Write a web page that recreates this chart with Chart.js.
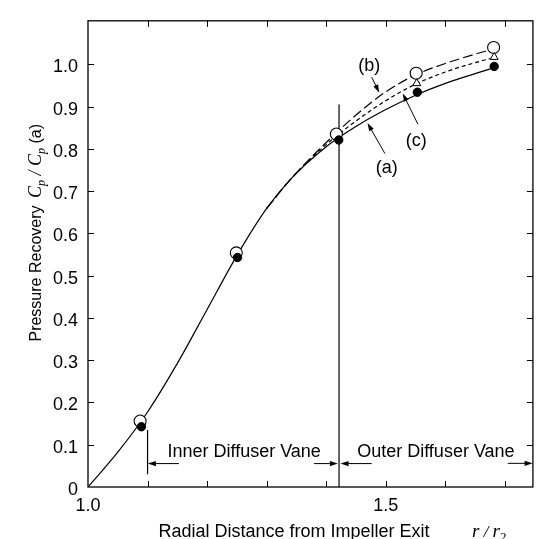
<!DOCTYPE html>
<html>
<head>
<meta charset="utf-8">
<script src="https://cdn.jsdelivr.net/npm/chart.js@4/dist/chart.umd.min.js"></script>
<style>
  html, body { margin: 0; padding: 0; background: #fff; }
  #wrap { width: 540px; height: 539px; position: relative; }
</style>
</head>
<body>
<div id="wrap"><canvas id="c"></canvas></div>
<script>
// ---------------- data ----------------
const xTicks = [1.0, 1.1, 1.2, 1.3, 1.4, 1.5, 1.6, 1.7];
const xTickLabels = ['1.0', '', '', '', '', '1.5', '', ''];
const yTicks = [0, 0.1, 0.2, 0.3, 0.4, 0.5, 0.6, 0.7, 0.8, 0.9, 1.0];
const yTickLabels = ['0', '0.1', '0.2', '0.3', '0.4', '0.5', '0.6', '0.7', '0.8', '0.9', '1.0'];

// common part of the three curves
const commonX = [1.0, 1.05, 1.1, 1.15, 1.2, 1.25, 1.3, 1.34];
const commonY = [0, 0.0825, 0.1775, 0.2925, 0.420, 0.5475, 0.659, 0.728];
// branches after the split
const branchX = [1.4, 1.45, 1.5, 1.55, 1.6, 1.65, 1.682];
const curveAY = [0.805, 0.853, 0.893, 0.927, 0.955, 0.978, 0.992]; // (a) solid
const curveBY = [0.815, 0.880, 0.935, 0.975, 1.002, 1.024, 1.037]; // (b) long dash
const curveCY = [0.810, 0.866, 0.914, 0.953, 0.982, 1.004, 1.016]; // (c) short dash

// measured points
const openX = [1.0875, 1.249, 1.417, 1.551, 1.681];
const openY = [0.156, 0.554, 0.835, 0.979, 1.040];
const filledX = [1.0896, 1.251, 1.421, 1.553, 1.682];
const filledY = [0.1425, 0.543, 0.821, 0.934, 0.995];
const triX = [1.552, 1.682];
const triY = [0.955, 1.017];

// vane boundary lines
const vaneLineX = [1.4215, 1.4215];
const vaneLineY = [0, 0.905];
const innerStartX = [1.1, 1.1];
const innerStartY = [0.03, 0.135];

// ---------------- helpers ----------------
const zip = (xs, ys) => xs.map((x, i) => ({ x: x, y: ys[i] }));
const splitFrom = commonX.indexOf(1.3);
const dataA = zip(commonX.concat(branchX), commonY.concat(curveAY));
const dataB = zip(commonX.slice(splitFrom).concat(branchX), commonY.slice(splitFrom).concat(curveBY));
const dataC = zip(commonX.slice(splitFrom).concat(branchX), commonY.slice(splitFrom).concat(curveCY));

const SANS = '"Liberation Sans", Arial, Helvetica, sans-serif';
const SERIF = '"Liberation Serif", "Times New Roman", serif';

// ---------------- plugin: frame, inward ticks, annotations ----------------
const decor = {
  id: 'decor',
  afterDatasetsDraw(chart) {
    const ctx = chart.ctx;
    const xs = chart.scales.x, ys = chart.scales.y;
    const a = chart.chartArea;
    const X = v => xs.getPixelForValue(v);
    const Y = v => ys.getPixelForValue(v);
    ctx.save();
    ctx.strokeStyle = '#000';
    ctx.fillStyle = '#000';
    // frame
    ctx.lineWidth = 1.3;
    ctx.strokeRect(a.left, a.top, a.right - a.left, a.bottom - a.top);
    // inward ticks
    const TL = 6;
    ctx.lineWidth = 1;
    ctx.beginPath();
    xs.ticks.forEach(t => {
      const px = Math.round(X(t.value)) + 0.5;
      if (px - a.left < 2) return;
      ctx.moveTo(px, a.bottom); ctx.lineTo(px, a.bottom - TL);
      ctx.moveTo(px, a.top); ctx.lineTo(px, a.top + TL);
    });
    ys.ticks.forEach(t => {
      const py = Math.round(Y(t.value)) + 0.5;
      if (a.bottom - py < 2) return;
      ctx.moveTo(a.left, py); ctx.lineTo(a.left + TL, py);
      ctx.moveTo(a.right, py); ctx.lineTo(a.right - TL, py);
    });
    ctx.stroke();

    // arrows
    function arrow(x1, y1, x2, y2) {
      const p1 = [X(x1), Y(y1)], p2 = [X(x2), Y(y2)];
      const ang = Math.atan2(p2[1] - p1[1], p2[0] - p1[0]);
      const hl = 8, hw = 2.6;
      ctx.lineWidth = 1;
      ctx.beginPath();
      ctx.moveTo(p1[0], p1[1]);
      ctx.lineTo(p2[0] - Math.cos(ang) * hl * 0.8, p2[1] - Math.sin(ang) * hl * 0.8);
      ctx.stroke();
      ctx.beginPath();
      ctx.moveTo(p2[0], p2[1]);
      ctx.lineTo(p2[0] - Math.cos(ang) * hl - Math.sin(ang) * hw, p2[1] - Math.sin(ang) * hl + Math.cos(ang) * hw);
      ctx.lineTo(p2[0] - Math.cos(ang) * hl + Math.sin(ang) * hw, p2[1] - Math.sin(ang) * hl - Math.cos(ang) * hw);
      ctx.closePath();
      ctx.fill();
    }
    function label(text, x, y, font) {
      ctx.font = font || ('18px ' + SANS);
      ctx.textAlign = 'center';
      ctx.textBaseline = 'middle';
      ctx.fillText(text, X(x), Y(y));
    }
    // vane region annotations
    label('Inner Diffuser Vane', 1.2622, 0.0824);
    label('Outer Diffuser Vane', 1.5841, 0.0831);
    arrow(1.1527, 0.0554, 1.1005, 0.0554);
    arrow(1.3795, 0.0554, 1.4195, 0.0554);
    arrow(1.4763, 0.0554, 1.4240, 0.0554);
    arrow(1.7048, 0.0560, 1.7465, 0.0560);
    // curve labels
    label('(b)', 1.4721, 0.9954);
    arrow(1.4763, 0.9697, 1.4890, 0.9330);
    label('(c)', 1.5511, 0.8176);
    arrow(1.5539, 0.8584, 1.5285, 0.9310);
    label('(a)', 1.5018, 0.7545);
    arrow(1.4985, 0.7890, 1.4693, 0.8610);

    // x-axis title
    ctx.textAlign = 'left';
    ctx.textBaseline = 'alphabetic';
    ctx.font = '18px ' + SANS;
    const xt = 'Radial Distance from Impeller Exit';
    const xtw = ctx.measureText(xt).width;
    ctx.fillText(xt, 294 - xtw / 2, 536.5);
    // r / r2
    let cx = 472;
    const rPieces = [
      { t: 'r', f: 'italic 19px ' + SERIF, dy: 0 },
      { t: ' / ', f: 'italic 17px ' + SERIF, dy: 0 },
      { t: 'r', f: 'italic 19px ' + SERIF, dy: 0 },
      { t: '2', f: '13px ' + SERIF, dy: 4 }
    ];
    rPieces.forEach(p => {
      ctx.font = p.f;
      ctx.fillText(p.t, cx, 536.5 + p.dy);
      cx += ctx.measureText(p.t).width;
    });

    // y-axis title (rotated)
    ctx.save();
    ctx.font = '16px ' + SANS;
    ctx.textAlign = 'center';
    ctx.textBaseline = 'alphabetic';
    ctx.translate(41, 273.5);
    ctx.rotate(-Math.PI / 2);
    ctx.fillText('Pressure Recovery', 0, 0);
    ctx.restore();

    const cPieces = [
      { t: 'C', f: 'italic 18px ' + SERIF, dy: 0 },
      { t: 'p', f: 'italic 12px ' + SERIF, dy: 4 },
      { t: ' / ', f: 'italic 18px ' + SERIF, dy: 0 },
      { t: 'C', f: 'italic 18px ' + SERIF, dy: 0 },
      { t: 'p', f: 'italic 12px ' + SERIF, dy: 4 },
      { t: ' (a)', f: '16px ' + SANS, dy: 0 }
    ];
    let total = 0;
    cPieces.forEach(p => { ctx.font = p.f; total += ctx.measureText(p.t).width; });
    ctx.save();
    ctx.translate(41, 161 + total / 2);
    ctx.rotate(-Math.PI / 2);
    ctx.textAlign = 'left';
    let ox = 0;
    cPieces.forEach(p => {
      ctx.font = p.f;
      ctx.fillText(p.t, ox, p.dy);
      ox += ctx.measureText(p.t).width;
    });
    ctx.restore();

    ctx.restore();
  }
};

// ---------------- chart ----------------
const lineBase = {
  type: 'line',
  borderColor: '#000',
  borderWidth: 1.2,
  pointRadius: 0,
  pointHoverRadius: 0,
  fill: false,
  cubicInterpolationMode: 'monotone'
};

new Chart(document.getElementById('c'), {
  type: 'scatter',
  data: {
    datasets: [
      { label: 'filled', data: zip(filledX, filledY), pointStyle: 'circle', pointRadius: 4.2,
        backgroundColor: '#000', borderColor: '#000', borderWidth: 1, showLine: false },
      { label: 'triangle', data: zip(triX, triY), pointStyle: 'triangle', pointRadius: 4.6,
        backgroundColor: '#fff', borderColor: '#000', borderWidth: 1, showLine: false },
      { label: 'open', data: zip(openX, openY), pointStyle: 'circle', pointRadius: 6,
        backgroundColor: '#fff', borderColor: '#000', borderWidth: 1.1, showLine: false },
      Object.assign({}, lineBase, { label: '(b)', data: dataB, borderDash: [10, 4] }),
      Object.assign({}, lineBase, { label: '(c)', data: dataC, borderDash: [4, 3] }),
      Object.assign({}, lineBase, { label: '(a)', data: dataA }),
      Object.assign({}, lineBase, { label: 'vane', data: zip(vaneLineX, vaneLineY), cubicInterpolationMode: 'default', tension: 0 }),
      Object.assign({}, lineBase, { label: 'inner', data: zip(innerStartX, innerStartY), cubicInterpolationMode: 'default', tension: 0 })
    ]
  },
  options: {
    responsive: true,
    maintainAspectRatio: false,
    animation: false,
    events: [],
    layout: { padding: { top: 9, right: 2, left: 0, bottom: 0 } },
    plugins: { legend: { display: false }, tooltip: { enabled: false }, title: { display: false } },
    scales: {
      x: {
        type: 'linear', min: 1.0, max: 1.747,
        afterBuildTicks: s => { s.ticks = xTicks.map(v => ({ value: v })); },
        afterFit: s => { s.height = 52; },
        ticks: {
          callback: (v) => { const i = xTicks.findIndex(t => Math.abs(t - v) < 1e-6); return i >= 0 ? xTickLabels[i] : ''; },
          font: { family: SANS, size: 18 }, color: '#000', padding: 8,
          maxRotation: 0, autoSkip: false
        },
        grid: { display: false, drawTicks: false },
        border: { display: false }
      },
      y: {
        type: 'linear', min: 0, max: 1.103,
        afterBuildTicks: s => { s.ticks = yTicks.map(v => ({ value: v })); },
        afterFit: s => { s.width = 88; },
        ticks: {
          callback: (v) => { const i = yTicks.findIndex(t => Math.abs(t - v) < 1e-6); return i >= 0 ? yTickLabels[i] : ''; },
          font: { family: SANS, size: 18 }, color: '#000', padding: 10, labelOffset: 3,
          autoSkip: false
        },
        grid: { display: false, drawTicks: false },
        border: { display: false }
      }
    }
  },
  plugins: [decor]
});
</script>
</body>
</html>
